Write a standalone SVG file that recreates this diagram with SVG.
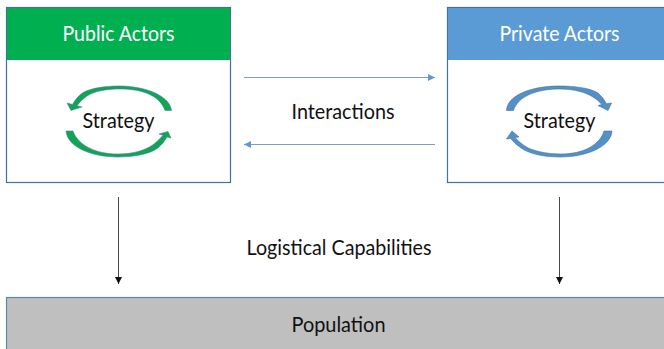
<svg xmlns="http://www.w3.org/2000/svg" width="664" height="349" viewBox="0 0 664 349">
<style>
text{font-family:"Lato","Open Sans","Liberation Sans",sans-serif;font-size:21px;fill:#111;text-anchor:middle}
.box{fill:#fff;stroke:#41719C;stroke-width:1.2}
.bar{stroke:none}
.sg{fill:#0FA552;stroke:#4F7FA8;stroke-width:.6}
.sb{fill:#5490C8;stroke:#41719C;stroke-width:.6}
.blue{stroke:#7BA0C4;stroke-width:1.2;fill:none}
.black{stroke:#333;stroke-width:.9;fill:none}
</style>
<defs>
<marker id="ab" markerUnits="userSpaceOnUse" markerWidth="8" markerHeight="8" refX="7" refY="3.5" orient="auto"><path d="M0,0L7,3.500L0,7Z" fill="#5B9BD5"/></marker>
<marker id="ak" markerUnits="userSpaceOnUse" markerWidth="8" markerHeight="8" refX="7" refY="3.5" orient="auto"><path d="M0,0L7,3.500L0,7Z" fill="#111"/></marker>
</defs>
<rect width="664" height="349" fill="#fff"/>
<g id="public-actors">
<rect class="box" x="6.500" y="7.500" width="224" height="175"/>
<rect class="bar" x="7" y="8" width="223" height="52" fill="#00B050"/>
<text x="118.500" y="40.500" textLength="112" lengthAdjust="spacingAndGlyphs" style="fill:#fff">Public Actors</text>
<path class="sg" d="M171.500,110.500C170,96 146,86 119,86C105,86 92,88 84,92Q77,96 72.500,104.400L67,103L71,110.500L82,107L77,105.700Q81,100 87,96C95,91 106,89 120,89C143,89 160,96 165,110.500Z"/>
<path class="sg" d="M66,131C67,146 90,157 118,157C134,157 150,154 158,148Q164,143 167,137L171,138L168,131.500L159,134L163,135.300Q159,140 154,144C146,150 134,154 118,154C95,154 78,145 73,131Z"/>
<text x="118.500" y="128" textLength="72" lengthAdjust="spacingAndGlyphs">Strategy</text>
</g>
<g id="private-actors">
<rect class="box" x="447.500" y="7.500" width="220" height="175"/>
<rect class="bar" x="448" y="8" width="216" height="52" fill="#5B9BD5"/>
<text x="559.500" y="40.500" textLength="120" lengthAdjust="spacingAndGlyphs" style="fill:#fff">Private Actors</text>
<path class="sb" d="M506.500,110.500C507,96 530,86 559,86C575,86 590,88 598,93Q603,97 606.500,103.700L611.500,103L608,110.500L598,105.500L602,104.600Q598,100 593,97C585,92 574,89 560,89C537,89 518,96 513.500,110.500Z"/>
<path class="sb" d="M612,131C611,146 588,157 560,157C544,157 530,154 521,148Q515,144 510.500,138.500L506.500,139L512,131L519,137L515,137.500Q519,142 524,145.500C532,151 546,154 561,154C583,154 600,145 604,131Z"/>
<text x="559.500" y="128" textLength="72" lengthAdjust="spacingAndGlyphs">Strategy</text>
</g>
<g id="population">
<rect x="6.500" y="297.500" width="660" height="60" fill="#BFBFBF" stroke="#5B87AD" stroke-width="1.200"/>
<text x="338.500" y="331.500" textLength="94" lengthAdjust="spacingAndGlyphs">Population</text>
</g>
<g id="connectors">
<line class="blue" x1="244" y1="77.500" x2="435" y2="77.500" marker-end="url(#ab)"/>
<line class="blue" x1="435" y1="144.500" x2="244" y2="144.500" marker-end="url(#ab)"/>
<line class="black" x1="118.500" y1="197" x2="118.500" y2="284" marker-end="url(#ak)"/>
<line class="black" x1="559.500" y1="197" x2="559.500" y2="284" marker-end="url(#ak)"/>
</g>
<text x="343" y="118.500" textLength="103" lengthAdjust="spacingAndGlyphs">Interactions</text>
<text x="339" y="254.500" textLength="185" lengthAdjust="spacingAndGlyphs">Logistical Capabilities</text>
</svg>
